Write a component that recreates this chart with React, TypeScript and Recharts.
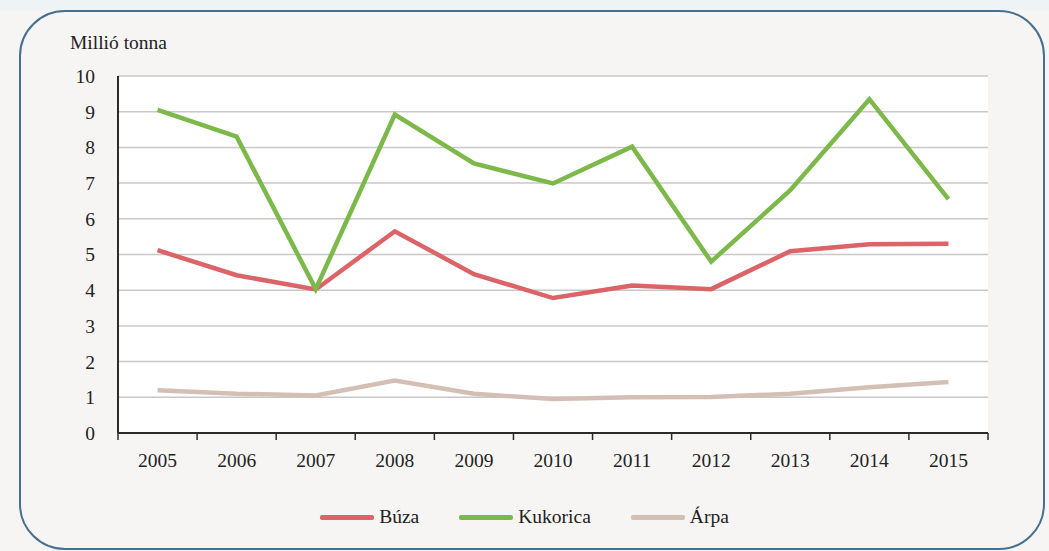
import { CartesianGrid, ComposedChart, Legend, Line, XAxis, YAxis } from "recharts";

const years = ["2005", "2006", "2007", "2008", "2009", "2010", "2011", "2012", "2013", "2014", "2015"];
const buza = [5.12, 4.42, 4.02, 5.65, 4.45, 3.78, 4.13, 4.03, 5.09, 5.29, 5.3];
const kukorica = [9.05, 8.3, 4.03, 8.92, 7.55, 6.99, 8.02, 4.8, 6.8, 9.35, 6.55];
const arpa = [1.2, 1.1, 1.05, 1.47, 1.1, 0.95, 1.0, 1.01, 1.1, 1.28, 1.43];
const yTicks = [0, 1, 2, 3, 4, 5, 6, 7, 8, 9, 10];

const series = [
  { key: "buza", name: "Búza", color: "#dc6368" },
  { key: "kukorica", name: "Kukorica", color: "#7db84a" },
  { key: "arpa", name: "Árpa", color: "#d4bfb4" },
];

const data = years.map((year, i) => ({
  year,
  buza: buza[i],
  kukorica: kukorica[i],
  arpa: arpa[i],
}));

const FONT = "'Liberation Serif', 'DejaVu Serif', serif";
const FS = 19.5;
const AXIS = "#2b2b2b";
const TICK_SIZE = 7;
const TICK_MARGIN = 14;

function YearTick(props: any) {
  const { x, y, payload, index, visibleTicksCount } = props;
  const half = payload?.offset ?? 0;
  const axisY = y - TICK_MARGIN;
  const last = index === (visibleTicksCount ?? years.length) - 1;
  return (
    <g>
      <line x1={x - half} x2={x - half} y1={axisY} y2={axisY + TICK_SIZE} stroke={AXIS} strokeWidth={1.5} />
      {last && (
        <line x1={x + half} x2={x + half} y1={axisY} y2={axisY + TICK_SIZE} stroke={AXIS} strokeWidth={1.5} />
      )}
      <text x={x} y={y + 20} textAnchor="middle" fontSize={FS} fontFamily={FONT} fill="#222">
        {payload.value}
      </text>
    </g>
  );
}

function LegendBox() {
  return (
    <div style={{ display: "flex", justifyContent: "center", gap: 40, fontFamily: FONT, fontSize: FS, color: "#222" }}>
      {series.map((s) => (
        <div key={s.key} style={{ display: "flex", alignItems: "center", gap: 5 }}>
          <span style={{ display: "inline-block", width: 54, height: 5, borderRadius: 2, background: s.color }} />
          <span>{s.name}</span>
        </div>
      ))}
    </div>
  );
}

export default function App() {
  return (
    <div style={{ position: "absolute", left: 0, top: 0, width: 1049, height: 551, background: "#f6f5f3", overflow: "hidden" }}>
      <div style={{ position: "absolute", left: 0, top: 0, width: 1049, height: 10, background: "#eef3f6" }} />
      <div
        style={{
          position: "absolute",
          left: 19,
          top: 10,
          width: 1022,
          height: 536,
          border: "2px solid #45708f",
          borderRadius: 46,
          background: "#f6f5f3",
        }}
      />
      <div style={{ position: "absolute", left: 70, top: 32, fontFamily: FONT, fontSize: FS, color: "#222" }}>
        Millió tonna
      </div>
      <div style={{ position: "absolute", left: 0, top: 0 }}>
        <ComposedChart width={1049} height={551} data={data} margin={{ top: 76, right: 61, left: 68, bottom: 88 }}>
          <CartesianGrid vertical={false} stroke="#c8c8c8" strokeWidth={1.5} fill="#ffffff" />
          <XAxis
            dataKey="year"
            scale="band"
            height={30}
            tickLine={false}
            tickSize={0}
            tickMargin={TICK_MARGIN}
            axisLine={{ stroke: AXIS, strokeWidth: 2 }}
            tick={<YearTick />}
            interval={0}
          />
          <XAxis xAxisId="top" dataKey="year" orientation="top" height={0} tick={false} tickLine={false} axisLine={{ stroke: AXIS, strokeWidth: 2 }} />
          <YAxis
            domain={[0, 10]}
            ticks={yTicks}
            interval={0}
            width={50}
            tickLine={false}
            tickMargin={17}
            axisLine={{ stroke: AXIS, strokeWidth: 2 }}
            tick={{ fontSize: FS, fontFamily: FONT, fill: "#222" }}
          />
          <YAxis yAxisId="right" orientation="right" width={0} tick={false} tickLine={false} axisLine={{ stroke: AXIS, strokeWidth: 2 }} />
          {series.map((s) => (
            <Line
              key={s.key}
              dataKey={s.key}
              name={s.name}
              type="linear"
              stroke={s.color}
              strokeWidth={4.5}
              dot={false}
              activeDot={false}
              isAnimationActive={false}
            />
          ))}
          <Legend
            layout="horizontal"
            verticalAlign="middle"
            content={<LegendBox />}
            wrapperStyle={{ position: "absolute", top: 506, left: 0, width: 1049 }}
          />
        </ComposedChart>
      </div>
    </div>
  );
}
